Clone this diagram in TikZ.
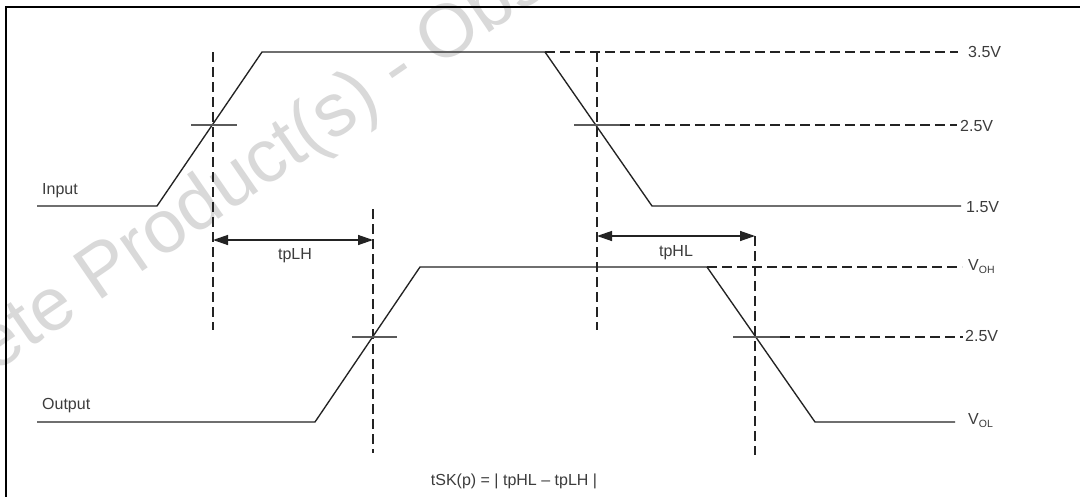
\documentclass[tikz,border=0pt]{standalone}
\usepackage{fontspec}
\setmainfont{Liberation Sans}
\usetikzlibrary{arrows.meta}
\definecolor{wmgray}{RGB}{217,217,217}
\definecolor{ink}{RGB}{35,35,35}
\definecolor{txt}{RGB}{60,60,60}
\begin{document}
\begin{tikzpicture}[x=1pt,y=-1pt,
  wave/.style={line width=1.35pt, ink},
  guide/.style={line width=1.35pt, ink, dash pattern=on 10pt off 5pt},
  tickline/.style={line width=1.35pt, ink!75},
  lbl/.style={font=\fontsize{16}{18}\selectfont, text=txt, inner sep=0pt},
  dimline/.style={line width=1.35pt, ink, {Triangle[length=15pt,width=10pt]}-{Triangle[length=15pt,width=10pt]}},
  frameline/.style={line width=2.8pt, black},
  watermark/.style={font=\fontsize{75}{75}\selectfont, text=wmgray, inner sep=0pt}]
\useasboundingbox (0,0) rectangle (1080,496);
\fill[white] (0,0) rectangle (1080,496);
% watermark
\node[watermark, anchor=base west, rotate=34.5] (wm) at (-167,484.5) {Obsolete Product(s) - Obsolete Product(s)};
% frame
\coordinate (fbl) at (6,498);
\coordinate (ftl) at (6,7);
\coordinate (ftr) at (1082,7);
\draw[frameline] (fbl) -- (ftl) -- (ftr);
% input waveform
\coordinate (i0) at (37,206);
\coordinate (i1) at (157,206);
\coordinate (i2) at (262,52);
\coordinate (i3) at (545,52);
\coordinate (i4) at (652,206);
\coordinate (i5) at (961,206);
\draw[wave] (i0) -- (i1) -- (i2) -- (i3) -- (i4) -- (i5);
% output waveform
\coordinate (o0) at (37,422);
\coordinate (o1) at (315,422);
\coordinate (o2) at (420,267);
\coordinate (o3) at (707,267);
\coordinate (o4) at (815,422);
\coordinate (o5) at (955,422);
\draw[wave] (o0) -- (o1) -- (o2) -- (o3) -- (o4) -- (o5);
% horizontal dashed level lines
\coordinate (h35e) at (958,52);
\coordinate (h25s) at (620,125);
\coordinate (h25e) at (957,125);
\coordinate (hohe) at (962,267);
\coordinate (ho25s) at (780,337);
\coordinate (ho25e) at (963,337);
\draw[guide] (i3) -- (h35e);
\draw[guide] (h25s) -- (h25e);
\draw[guide] (o3) -- (hohe);
\draw[guide] (ho25s) -- (ho25e);
% vertical dashed guides
\coordinate (v1t) at (213,52);  \coordinate (v1b) at (213,330);
\coordinate (v2t) at (373,209); \coordinate (v2b) at (373,453);
\coordinate (v3t) at (597,52);  \coordinate (v3b) at (597,330);
\coordinate (v4t) at (755,236); \coordinate (v4b) at (755,455);
\draw[guide] (v1t) -- (v1b);
\draw[guide] (v2t) -- (v2b);
\draw[guide] (v3t) -- (v3b);
\draw[guide] (v4t) -- (v4b);
% crossing ticks
\coordinate (t1a) at (191,125); \coordinate (t1b) at (237,125);
\coordinate (t2a) at (574,125); \coordinate (t2b) at (620,125);
\coordinate (t3a) at (352,337); \coordinate (t3b) at (397,337);
\coordinate (t4a) at (733,337); \coordinate (t4b) at (780,337);
\draw[tickline] (t1a) -- (t1b);
\draw[tickline] (t2a) -- (t2b);
\draw[tickline] (t3a) -- (t3b);
\draw[tickline] (t4a) -- (t4b);
% dimension arrows
\coordinate (a1s) at (213,240); \coordinate (a1e) at (373,240);
\coordinate (a2s) at (597,236); \coordinate (a2e) at (755,236);
\draw[dimline] (a1s) -- (a1e);
\draw[dimline] (a2s) -- (a2e);
% labels
\node[lbl, anchor=west] (linput) at (42,191) {Input};
\node[lbl, anchor=west] (loutput) at (42,406) {Output};
\node[lbl] (ltplh) at (295,256) {tpLH};
\node[lbl] (ltphl) at (676,253) {tpHL};
\node[lbl, anchor=west] (l35) at (968,52) {3.5V};
\node[lbl, anchor=west] (l25a) at (960,126) {2.5V};
\node[lbl, anchor=west] (l15) at (966,207) {1.5V};
\node[lbl, anchor=west] (lvoh) at (968,267) {V\raisebox{-0.35ex}{\fontsize{10.5}{11}\selectfont OH}};
\node[lbl, anchor=west] (l25b) at (965,336) {2.5V};
\node[lbl, anchor=west] (lvol) at (968,421) {V\raisebox{-0.35ex}{\fontsize{10.5}{11}\selectfont OL}};
\node[lbl] (leq) at (514,481) {tSK(p) = | tpHL – tpLH |};
\end{tikzpicture}
\end{document}
